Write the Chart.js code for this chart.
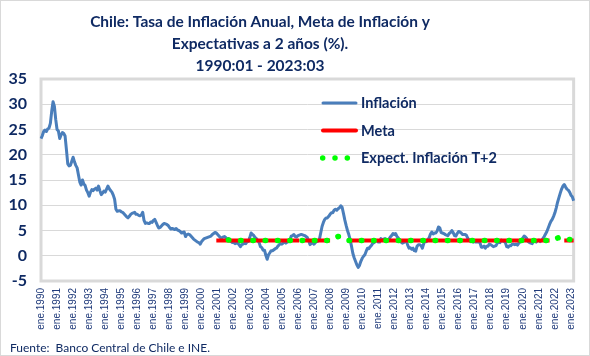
<!DOCTYPE html>
<html><head><meta charset="utf-8">
<script src="https://cdn.jsdelivr.net/npm/chart.js@4.4.0/dist/chart.umd.min.js"></script>
<style>html,body{margin:0;padding:0;background:#fff;}#wrap{width:590px;height:356px;position:relative;}canvas{display:block;}</style>
</head><body><div id="wrap"><canvas id="c" width="590" height="356"></canvas></div>
<script>
const _ = null;
const monthNames = ['ene','feb','mar','abr','may','jun','jul','ago','sep','oct','nov','dic'];
const firstYear = 1990, lastYear = 2023, lastMonthIndex = 2; // 1990:01 - 2023:03
const tickLabels = ['ene.1990','ene.1991','ene.1992','ene.1993','ene.1994','ene.1995','ene.1996','ene.1997','ene.1998','ene.1999',
  'ene.2000','ene.2001','ene.2002','ene.2003','ene.2004','ene.2005','ene.2006','ene.2007','ene.2008','ene.2009',
  'ene.2010','ene.2011','ene.2012','ene.2013','ene.2014','ene.2015','ene.2016','ene.2017','ene.2018','ene.2019',
  'ene.2020','ene.2021','ene.2022','ene.2023'];
const yTicks = {min:-5, max:35, step:5};

const titleLines = ['Chile: Tasa de Inflación Anual, Meta de Inflación y','Expectativas a 2 años (%).','1990:01 - 2023:03'];
const sourceText = 'Fuente:  Banco Central de Chile e INE.';
const seriesNames = ['Inflación','Meta','Expect. Inflación T+2'];

// Inflación anual (%), mensual 1990:01 - 2023:03
const inflacion = [
  23.2,23.8,24.6,24.9,24.6,25.1,25.3,26.2,28.6,30.5,29.6,27.0, // 1990
  25.0,24.7,23.2,23.9,24.4,24.2,23.7,21.0,18.2,17.8,17.9,18.7, // 1991
  19.5,18.6,17.9,17.4,16.0,14.6,14.0,15.0,14.2,13.9,13.0,12.5, // 1992
  11.8,12.6,13.1,12.9,13.2,13.4,13.0,13.8,12.9,12.1,12.4,12.8, // 1993
  12.6,13.2,13.8,13.3,12.9,12.6,12.0,11.2,9.2,8.8,8.9,8.9,     // 1994
  8.7,8.6,8.3,8.0,7.7,7.5,7.8,8.2,8.4,8.5,8.6,8.2,             // 1995
  8.2,8.0,7.9,8.1,8.6,7.0,6.4,6.5,6.4,6.4,6.7,6.6,             // 1996
  7.0,7.2,6.6,6.0,5.5,5.6,5.9,6.2,6.4,6.3,6.2,6.0,             // 1997
  5.6,5.3,5.4,5.3,5.2,5.4,5.1,5.0,4.8,4.5,4.6,4.7,             // 1998
  3.8,4.2,4.3,4.2,3.9,3.6,3.3,3.1,2.9,2.7,2.6,2.3,             // 1999
  2.8,3.1,3.4,3.5,3.6,3.7,3.8,3.9,4.2,4.4,4.6,4.5,             // 2000
  4.2,3.9,3.6,3.5,3.7,3.8,3.6,3.3,3.4,3.0,2.8,2.6,             // 2001
  2.6,2.4,2.5,2.5,2.2,1.8,2.2,2.3,2.5,2.4,2.8,2.8,             // 2002
  3.6,4.5,4.2,4.0,3.6,3.4,3.0,2.6,1.8,1.6,1.1,1.1,             // 2003
  0.1,-0.7,0.2,0.6,1.0,1.0,1.2,1.4,1.5,1.9,2.2,2.4,            // 2004
  2.3,2.5,2.8,2.5,2.7,2.8,3.1,3.9,4.0,4.2,3.8,3.7,             // 2005
  4.0,4.1,4.2,4.2,4.1,4.0,3.8,3.6,3.0,2.2,2.4,2.6,             // 2006
  2.3,2.6,2.8,2.9,3.2,4.5,5.8,6.6,7.2,7.5,7.5,7.8,             // 2007
  8.2,8.5,8.5,9.0,9.2,9.0,9.3,9.5,9.9,9.6,8.4,7.1,             // 2008
  6.0,5.0,4.2,3.2,1.9,0.5,-0.4,-1.1,-1.8,-2.3,-1.9,-1.1,       // 2009
  -0.5,-0.1,0.2,0.9,1.5,1.4,1.8,2.1,2.5,2.6,3.0,3.0,           // 2010
  2.7,2.7,3.4,3.2,3.3,3.4,3.1,3.1,3.3,3.7,4.0,4.4,             // 2011
  4.2,4.4,3.8,3.5,3.1,2.7,2.5,2.6,2.8,2.9,2.1,1.5,             // 2012
  1.6,1.3,1.5,1.0,0.9,1.9,2.2,2.2,2.0,1.5,2.4,3.0,             // 2013
  2.8,3.2,3.5,4.3,4.7,4.3,4.5,4.5,4.9,5.7,5.5,4.6,             // 2014
  4.5,4.4,4.2,4.1,4.0,4.4,4.6,5.0,4.6,4.0,3.9,4.4,             // 2015
  4.8,4.7,4.5,4.2,4.2,4.2,4.0,3.4,3.1,2.8,2.9,2.7,             // 2016
  2.8,2.7,2.7,2.7,2.6,1.7,1.7,1.9,1.5,1.9,1.9,2.3,             // 2017
  2.2,2.0,1.8,1.9,2.0,2.5,2.7,2.6,3.1,2.9,2.8,2.6,             // 2018
  1.8,1.7,2.0,2.0,2.3,2.3,2.2,2.3,2.1,2.5,2.7,3.0,             // 2019
  3.5,3.9,3.7,3.4,2.8,2.6,2.5,2.4,3.1,3.0,2.7,3.0,             // 2020
  3.1,2.8,3.0,3.4,3.8,4.3,4.8,5.5,6.2,6.8,7.2,7.8,             // 2021
  8.5,9.5,10.6,11.5,12.4,13.2,13.8,14.1,13.6,13.2,13.0,12.6,   // 2022
  12.0,11.7,10.9                                               // 2023
];

// Meta de inflación (%)
const meta = [
  _,_,_,_,_,_,_,_,_,_,_,_, _,_,_,_,_,_,_,_,_,_,_,_, _,_,_,_,_,_,_,_,_,_,_,_, // 1990-1992
  _,_,_,_,_,_,_,_,_,_,_,_, _,_,_,_,_,_,_,_,_,_,_,_, _,_,_,_,_,_,_,_,_,_,_,_, // 1993-1995
  _,_,_,_,_,_,_,_,_,_,_,_, _,_,_,_,_,_,_,_,_,_,_,_, _,_,_,_,_,_,_,_,_,_,_,_, // 1996-1998
  _,_,_,_,_,_,_,_,_,_,_,_,                                                   // 1999
  _,_,_,_,_,_,_,_,_,_,_,3,                                                   // 2000
  3,3,3,3,3,3,3,3,3,3,3,3, 3,3,3,3,3,3,3,3,3,3,3,3, 3,3,3,3,3,3,3,3,3,3,3,3, // 2001-2003
  3,3,3,3,3,3,3,3,3,3,3,3, 3,3,3,3,3,3,3,3,3,3,3,3,                          // 2004-2005
  3,3,_,_,3,3,3,3,3,3,3,3,                                                   // 2006
  3,3,3,3,3,3,3,3,3,3,3,3,                                                   // 2007
  3,_,_,_,_,_,_,_,_,_,_,_,                                                   // 2008
  _,3,3,3,3,3,3,3,3,3,3,3,                                                   // 2009
  3,3,3,3,3,3,3,3,3,3,3,3, 3,3,3,3,3,3,3,3,3,3,3,3, 3,3,3,3,3,3,3,3,3,3,3,3, // 2010-2012
  3,3,3,3,3,3,3,3,3,3,3,3, 3,3,3,3,3,3,3,3,3,3,3,3, 3,3,3,3,3,3,3,3,3,3,3,3, // 2013-2015
  3,3,3,3,3,3,3,3,3,3,3,3, 3,3,3,3,3,3,3,3,3,3,3,3, 3,3,3,3,3,3,3,3,3,3,3,3, // 2016-2018
  3,3,3,3,3,3,3,3,3,3,3,3, 3,3,3,3,3,3,3,3,3,3,3,3,                          // 2019-2020
  3,3,3,3,3,3,3,3,3,_,_,_,                                                   // 2021
  _,_,_,_,_,_,_,3,3,3,3,3,                                                   // 2022
  3,3,3                                                                      // 2023
];

// Expectativas de inflación a 2 años (%)
const expectativas = [
  _,_,_,_,_,_,_,_,_,_,_,_, _,_,_,_,_,_,_,_,_,_,_,_, _,_,_,_,_,_,_,_,_,_,_,_, // 1990-1992
  _,_,_,_,_,_,_,_,_,_,_,_, _,_,_,_,_,_,_,_,_,_,_,_, _,_,_,_,_,_,_,_,_,_,_,_, // 1993-1995
  _,_,_,_,_,_,_,_,_,_,_,_, _,_,_,_,_,_,_,_,_,_,_,_, _,_,_,_,_,_,_,_,_,_,_,_, // 1996-1998
  _,_,_,_,_,_,_,_,_,_,_,_, _,_,_,_,_,_,_,_,_,_,_,_,                          // 1999-2000
  _,_,_,_,_,_,_,_,3.1,3.1,3.0,3.0,                                           // 2001
  3.0,3.0,3.0,3.0,3.0,3.0,3.0,3.0,3.0,3.0,3.0,3.0,                           // 2002
  3.0,3.0,3.0,3.0,3.0,3.0,3.0,3.0,3.0,3.0,3.0,3.0,                           // 2003
  3.0,3.0,3.0,3.0,3.0,3.0,3.0,3.0,3.0,3.0,3.0,3.0,                           // 2004
  3.0,3.0,3.0,3.0,3.0,3.0,3.0,3.0,3.0,3.0,3.0,3.0,                           // 2005
  3.0,3.0,3.0,3.0,3.0,3.0,3.0,3.0,3.0,3.0,3.0,3.0,                           // 2006
  3.0,3.0,3.0,3.0,3.0,3.0,3.0,3.0,3.0,3.0,3.0,3.0,                           // 2007
  3.0,3.1,3.3,3.5,3.6,3.7,3.8,3.8,3.7,3.5,3.3,3.1,                           // 2008
  3.0,3.0,3.0,3.0,3.0,3.0,3.0,3.0,3.0,3.0,3.0,3.0,                           // 2009
  3.0,3.0,3.0,3.0,3.0,3.0,3.0,3.0,3.0,3.0,3.0,3.0,                           // 2010
  3.0,3.0,3.0,3.0,3.0,3.0,3.0,3.0,3.0,3.0,3.0,3.0,                           // 2011
  3.0,3.0,3.0,3.0,3.0,3.0,3.0,3.0,3.0,3.0,3.0,3.0,                           // 2012
  3.0,3.0,3.0,3.0,3.0,3.0,3.0,3.0,3.0,3.0,3.0,3.0,                           // 2013
  3.0,3.0,3.0,3.0,3.0,3.0,3.0,3.0,3.0,3.0,3.0,3.0,                           // 2014
  3.0,3.0,3.0,3.0,3.0,3.0,3.0,3.0,3.0,3.0,3.0,3.0,                           // 2015
  3.0,3.0,3.0,3.0,3.0,3.0,3.0,3.0,3.0,3.0,3.0,3.0,                           // 2016
  3.0,3.0,3.0,3.0,3.0,3.0,3.0,3.0,3.0,3.0,3.0,3.0,                           // 2017
  3.0,3.0,3.0,3.0,3.0,3.0,3.0,3.0,3.0,3.0,3.0,3.0,                           // 2018
  3.0,3.0,3.0,3.0,3.0,3.0,3.0,3.0,3.0,3.0,3.0,3.0,                           // 2019
  3.0,3.0,3.0,3.0,3.0,3.0,3.0,3.0,3.0,3.0,3.0,3.0,                           // 2020
  3.0,3.0,3.0,3.0,3.0,3.0,3.0,3.0,3.1,3.2,3.2,3.3,                           // 2021
  3.4,3.5,3.5,3.6,3.6,3.7,3.7,3.6,3.5,3.4,3.3,3.2,                           // 2022
  3.2,3.1,3.1                                                                // 2023
];

// category labels (months)
const categories = [];
for (let y = firstYear; y <= lastYear; y++) {
  for (let m = 0; m < 12; m++) {
    if (y === lastYear && m > lastMonthIndex) break;
    categories.push(monthNames[m] + '.' + y);
  }
}

const NAVY = '#0F2A63';
const TICK_BLUE = '#1F3A7A';
const GRID = '#D9D9D9';

function fitFont(ctx, text, weight, family, target) {
  ctx.font = weight + ' 100px ' + family;
  const w = ctx.measureText(text).width;
  return 100 * target / w;
}

const framePlugin = {
  id: 'frame',
  beforeDatasetsDraw(chart) {
    const {ctx, chartArea: a} = chart;
    ctx.save();
    ctx.strokeStyle = GRID;
    ctx.lineWidth = 3;
    ctx.strokeRect(a.left, a.top, a.right - a.left, a.bottom - a.top);
    ctx.restore();
  },
  afterDraw(chart) {
    const ctx = chart.ctx;
    ctx.save();
    ctx.strokeStyle = GRID;
    ctx.lineWidth = 1;
    ctx.strokeRect(0.5, 0.5, chart.width - 1, chart.height - 1);
    ctx.restore();
  }
};

const textPlugin = {
  id: 'texts',
  afterDraw(chart) {
    const ctx = chart.ctx;
    ctx.save();
    // title
    const tFam = 'Lato, "Open Sans", sans-serif';
    const ts = fitFont(ctx, titleLines[0], 'bold', tFam, 340);
    ctx.font = 'bold ' + ts + 'px ' + tFam;
    ctx.fillStyle = NAVY;
    ctx.textAlign = 'center';
    ctx.textBaseline = 'middle';
    const ty = [22.5, 44, 66];
    titleLines.forEach((l, i) => ctx.fillText(l, 260, ty[i]));

    // legend
    const ds = chart.data.datasets;
    const rows = [103, 130.5, 158];
    const ls = fitFont(ctx, seriesNames[2], 'bold', tFam, 136);
    ctx.textAlign = 'left';
    ctx.font = 'bold ' + ls + 'px ' + tFam;
    ds.forEach((d, i) => {
      const y = rows[i];
      ctx.fillStyle = NAVY;
      ctx.fillText(d.label, 361, y + 0.5);
      if (i < 2) {
        ctx.beginPath();
        ctx.strokeStyle = d.borderColor;
        ctx.lineWidth = d.borderWidth;
        ctx.lineCap = 'round';
        ctx.moveTo(323, y);
        ctx.lineTo(356, y);
        ctx.stroke();
      } else {
        ctx.fillStyle = d.borderColor;
        [322.7, 335, 347.3].forEach(x => {
          ctx.beginPath();
          ctx.arc(x, y, d.borderWidth / 2, 0, Math.PI * 2);
          ctx.fill();
        });
      }
    });

    // source
    const fs = fitFont(ctx, sourceText, 'normal', tFam, 200);
    ctx.font = 'normal ' + fs + 'px ' + tFam;
    ctx.fillStyle = NAVY;
    ctx.textAlign = 'left';
    ctx.fillText(sourceText, 10, 348);
    ctx.restore();
  }
};

new Chart(document.getElementById('c'), {
  type: 'line',
  data: {
    labels: categories,
    datasets: [
      {label: seriesNames[0], data: inflacion, borderColor: '#4A7EBB', borderWidth: 3, pointRadius: 0,
       tension: 0, borderJoinStyle: 'round', order: 3},
      {label: seriesNames[1], data: meta, borderColor: '#FF0000', borderWidth: 4, pointRadius: 0,
       spanGaps: false, order: 2},
      {label: seriesNames[2], data: expectativas, borderColor: '#00FF00', borderWidth: 5.5, pointRadius: 0,
       borderDash: [0.5, 11.8], borderCapStyle: 'round', order: 1}
    ]
  },
  options: {
    responsive: false,
    animation: false,
    events: [],
    layout: {padding: {top: 79, right: 7, left: 0, bottom: 0}},
    plugins: {legend: {display: false}, tooltip: {enabled: false}, title: {display: false}},
    scales: {
      x: {
        type: 'category', offset: false,
        grid: {display: false, drawTicks: false},
        border: {display: false},
        ticks: {
          autoSkip: false, maxRotation: 90, minRotation: 90, padding: 7,
          color: TICK_BLUE, font: {family: '"Liberation Sans", Arial, sans-serif', size: 10},
          callback: function (v, i) { return i % 12 === 0 ? tickLabels[i / 12] : null; }
        },
        afterFit: (s) => { s.height = 75; }
      },
      y: {
        min: yTicks.min, max: yTicks.max,
        ticks: {stepSize: yTicks.step, color: NAVY, padding: 14,
                font: {family: 'Lato, sans-serif', weight: 'bold', size: 16}},
        grid: {color: GRID, lineWidth: 1, drawTicks: false},
        border: {display: false},
        afterFit: (s) => { s.width = 41; }
      }
    }
  },
  plugins: [framePlugin, textPlugin]
});
</script>
</body></html>
